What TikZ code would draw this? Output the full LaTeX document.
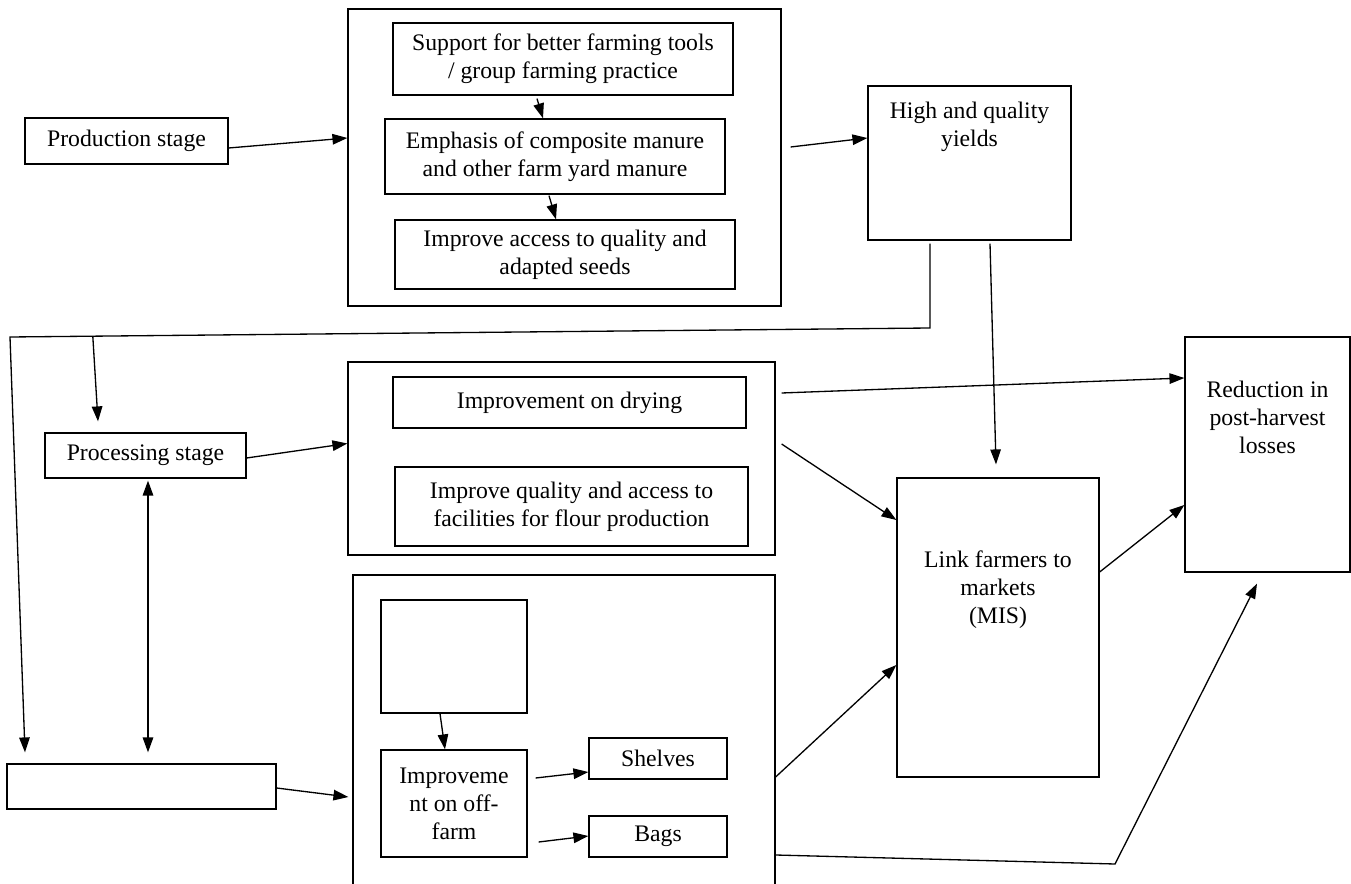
\documentclass[tikz,border=0pt]{standalone}
\usepackage{fontspec}
\setmainfont{Liberation Serif}
\usetikzlibrary{arrows.meta,calc}

\begin{document}
\begin{tikzpicture}[x=0.02cm,y=-0.02cm,line width=0.75pt,font=\fontsize{13.5}{16}\selectfont,
    box/.style={draw,rectangle,align=center,inner sep=2pt},
    arr/.style={-{Triangle[length=8.5pt,width=6pt]}},
    arrboth/.style={{Triangle[length=8.5pt,width=6pt]}-{Triangle[length=8.5pt,width=6pt]}}]
    \useasboundingbox (0,0) rectangle (1351,884);

    % production stage
    \node[box,minimum width=4.06cm,minimum height=0.92cm] (prod) at (126.5,141) {Production stage};
    \node[box,minimum width=8.66cm,minimum height=5.94cm] (topbox) at (564.5,157.5) {};
    \node[box,minimum width=6.8cm,minimum height=1.44cm] (support) at (563,59) {Support for better farming tools\\/ group farming practice};
    \node[box,minimum width=6.8cm,minimum height=1.5cm] (emph) at (555,156.5) {Emphasis of composite manure\\and other farm yard manure};
    \node[box,minimum width=6.8cm,minimum height=1.38cm] (seeds) at (565,254.5) {Improve access to quality and\\adapted seeds};
    \node[box,minimum width=4.06cm,minimum height=3.08cm,
        label={[anchor=north,align=center,yshift=-0.2cm]north:High and quality\\yields}] (yields) at (969.5,163) {};

    % processing stage
    \node[box,minimum width=4.02cm,minimum height=0.9cm] (proc) at (145.5,455.5) {Processing stage};
    \node[box,minimum width=8.54cm,minimum height=3.86cm] (midbox) at (561.5,458.5) {};
    \node[box,minimum width=7.06cm,minimum height=1.02cm] (dry) at (569.5,402.5) {Improvement on drying};
    \node[box,minimum width=7.06cm,minimum height=1.58cm] (flour) at (571.5,506.5) {Improve quality and access to\\facilities for flour production};

    % outcomes
    \node[box,minimum width=4.04cm,minimum height=5.98cm,
        label={[align=center,yshift=0.75cm]center:Link farmers to\\markets\\(MIS)}] (link) at (998,627.5) {};
    \node[box,minimum width=3.3cm,minimum height=4.7cm,
        label={[anchor=north,align=center,yshift=-0.76cm]north:Reduction in\\post-harvest\\losses}] (redu) at (1267.5,454.5) {};

    % off-farm stage
    \node[box,minimum width=5.38cm,minimum height=0.9cm] (blank) at (141.5,786.5) {};
    \node[box,minimum width=8.44cm,minimum height=6.3cm] (botbox) at (564,732.5) {};
    \node[box,minimum width=2.92cm,minimum height=2.26cm] (empty) at (454,656.5) {};
    \node[box,minimum width=2.92cm,minimum height=2.14cm] (off) at (454,803.5) {Improveme\\nt on off-\\farm};
    \node[box,minimum width=2.76cm,minimum height=0.82cm] (shelves) at (658,758.5) {Shelves};
    \node[box,minimum width=2.76cm,minimum height=0.82cm] (bags) at (658,836.5) {Bags};

    \coordinate (c1) at (930,328);
    \coordinate (c2) at (10,337);
    \coordinate (c3) at ($(c2)!0.09!(c1)$);
    \coordinate (c4) at (1115,864);

    % connectors
    \draw[arr] ($(prod.east)+(0,7)$) -- ($(topbox.west)+(0,-19.5)$);
    \draw[arr] ($(support.south)+(-26,3)$) -- ($(emph.north)+(-12,0)$);
    \draw[arr] ($(emph.south)+(-6,1)$) -- ($(seeds.north)+(-9,0)$);
    \draw[arr] ($(topbox.east)+(9,-10.5)$) -- ($(yields.west)+(0,-25)$);
    \draw[arr] ($(yields.south)+(20.5,3)$) -- ($(link.north)+(-2,-13)$);
    \draw[arr] ($(yields.south)+(-39.5,3)$) -- (c1) -- (c2) -- ($(blank.north)+(-116.5,-11)$);
    \draw[arr] (c3) -- ($(proc.north)+(-47.5,-11)$);
    \draw[arrboth] ($(proc.south)+(2.5,2)$) -- ($(blank.north)+(6.5,-11)$);
    \draw[arr] ($(proc.east)+(0,2.5)$) -- ($(midbox.west)+(0,-15)$);
    \draw[arr] ($(midbox.east)+(6,-65.5)$) -- ($(redu.west)+(0,-76.5)$);
    \draw[arr] ($(midbox.east)+(6,-14.5)$) -- ($(link.west)+(0,-107.5)$);
    \draw[arr] ($(link.east)+(0,-55.5)$) -- ($(redu.west)+(0,50.5)$);
    \draw[arr] ($(blank.east)+(0,1.5)$) -- ($(botbox.west)+(-4,64.5)$);
    \draw[arr] ($(empty.south)+(-14,0)$) -- ($(off.north)+(-9,0)$);
    \draw[arr] ($(off.east)+(8,-25.5)$) -- ($(shelves.west)+(0,13.5)$);
    \draw[arr] ($(off.east)+(11,38.5)$) -- ($(bags.west)+(0,-0.5)$);
    \draw[arr] ($(botbox.east)+(0,44.5)$) -- ($(link.west)+(0,37.5)$);
    \draw[arr] ($(botbox.east)+(0,122.5)$) -- (c4) -- ($(redu.south)+(-10.5,11)$);
\end{tikzpicture}
\end{document}
